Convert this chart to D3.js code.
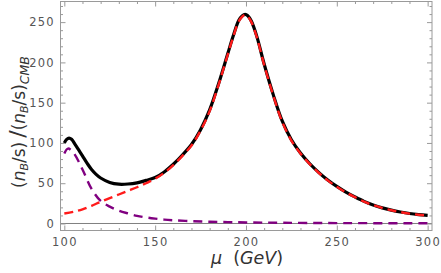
<!DOCTYPE html>
<html><head><meta charset="utf-8">
<script src="https://cdn.jsdelivr.net/npm/d3@7"></script>
<style>body{margin:0;background:#fff}svg{display:block}</style></head>
<body><svg id="c" width="441" height="273"></svg>
<script>
// ---- data ----
const muBlack = [100,101.3,102.6,104,106,108,110,112.5,115,117.5,120,125,130,135,140,145,150,155,160,165,170,175,180,185,190,193,196,198,199.5,201,203,206,210,215,220,225,230,235,240,245,250,255,260,265,270,275,280,285,290,295,300];
const total   = [100,104.5,106,104.5,98,91,84,75,67,61,56.5,51,48.8,49,50.5,53.5,57,64,73.5,85,98,116.5,141,174,211,233,252,258,259.5,258,251,232,198,160,127,104,87.5,74.5,63.5,54,46,39,33,27.5,23,19.4,16.6,14.3,12.4,11,10];
const muRed   = [100,105,110,115,120,125,130,135,140,145,150,155,160,165,170,175,180,185,190,193,196,198,199.5,201,203,206,210,215,220,225,230,235,240,245,250,255,260,265,270,275,280,285,290,295,300];
const redPart = [12.4,14.5,17.5,22,27,31.5,36,40.5,45,50,55.5,63,72.5,84,96.8,115.3,139.5,172.8,210,232,251,257,259,257,250,231,197,159,126,103,87,74,63,53.5,45.6,38.6,32.7,27.2,22.8,19.2,16.4,14.1,12.3,10.9,9.9];
const muPurple = [100,102,105,110,115,120,125,130,135,140,145,150,155,160,170,180,190,200,220,250,300];
const purplePart = [87,93,88,67,43,28,21,16,12.5,9.5,7.5,6,4.8,4,2.9,2.2,1.7,1.3,0.9,0.5,0.3];
const xMajor = [100,150,200,250,300];
const yMajor = [0,50,100,150,200,250];

// ---- layout ----
const svg = d3.select("#c");
const L = 60.5, R = 432, T = 1.5, B = 230.5;
const x = d3.scaleLinear().domain([97.9, 302.4]).range([L, R]);
const y = d3.scaleLinear().domain([-8.7, 275.6]).range([B, T]);
const xMinor = d3.range(100, 301, 10).filter(v => v % 50 !== 0);
const yMinor = d3.range(0, 271, 10).filter(v => v % 50 !== 0);
const frameCol = "#9a9a9a";

// zero line
svg.append("line").attr("x1", L).attr("x2", R).attr("y1", y(0)).attr("y2", y(0))
  .attr("stroke", "#808080").attr("stroke-width", 1);

// curves
const line = (xs, ys) => d3.line().curve(d3.curveCatmullRom.alpha(0.5))
  .x((d, i) => x(xs[i])).y((d, i) => y(ys[i]))(ys);
svg.append("path").attr("d", line(muBlack, total)).attr("fill", "none")
  .attr("stroke", "#000").attr("stroke-width", 3.2);
svg.append("path").attr("d", line(muPurple, purplePart)).attr("fill", "none")
  .attr("stroke", "#800080").attr("stroke-width", 2.4).attr("stroke-dasharray", "9,6");
svg.append("path").attr("d", line(muRed, redPart)).attr("fill", "none")
  .attr("stroke", "#ff1a1a").attr("stroke-width", 2.4).attr("stroke-dasharray", "9,5");

// frame
svg.append("rect").attr("x", L).attr("y", T).attr("width", R - L).attr("height", B - T)
  .attr("fill", "none").attr("stroke", frameCol).attr("stroke-width", 1);

function styleAxis(g) {
  g.select(".domain").remove();
  g.selectAll(".tick line").attr("stroke", frameCol);
  g.selectAll("text").attr("fill", "#555").attr("font-family", "DejaVu Sans, sans-serif")
    .attr("font-size", 11.5).attr("letter-spacing", "1.3px");
}
// major + minor ticks on all sides (inward)
svg.append("g").attr("transform", `translate(0,${B})`)
  .call(d3.axisBottom(x).tickValues(xMajor).tickSize(-5).tickPadding(7.5)).call(styleAxis);
svg.append("g").attr("transform", `translate(0,${B})`)
  .call(d3.axisBottom(x).tickValues(xMinor).tickSize(-2.5).tickFormat("")).call(styleAxis);
svg.append("g").attr("transform", `translate(0,${T})`)
  .call(d3.axisTop(x).tickValues(xMajor).tickSize(-5).tickFormat("")).call(styleAxis);
svg.append("g").attr("transform", `translate(0,${T})`)
  .call(d3.axisTop(x).tickValues(xMinor).tickSize(-2.5).tickFormat("")).call(styleAxis);
svg.append("g").attr("transform", `translate(${L},0)`)
  .call(d3.axisLeft(y).tickValues(yMajor).tickSize(-5).tickPadding(5.5)).call(styleAxis);
svg.append("g").attr("transform", `translate(${L},0)`)
  .call(d3.axisLeft(y).tickValues(yMinor).tickSize(-2.5).tickFormat("")).call(styleAxis);
svg.append("g").attr("transform", `translate(${R},0)`)
  .call(d3.axisRight(y).tickValues(yMajor).tickSize(-5).tickFormat("")).call(styleAxis);
svg.append("g").attr("transform", `translate(${R},0)`)
  .call(d3.axisRight(y).tickValues(yMinor).tickSize(-2.5).tickFormat("")).call(styleAxis);

// x axis title
const xt = svg.append("text").attr("x", 247).attr("y", 264).attr("text-anchor", "middle")
  .attr("font-family", "DejaVu Sans, sans-serif").attr("font-size", 17.5).attr("fill", "#333")
  .attr("xml:space", "preserve");
xt.append("tspan").attr("font-style", "italic").text("μ");
xt.append("tspan").text("  (");
xt.append("tspan").attr("font-style", "italic").text("GeV");
xt.append("tspan").text(")");

// y axis title
const yt = svg.append("text").attr("transform", "translate(25,122) rotate(-90)")
  .attr("text-anchor", "middle").attr("font-family", "DejaVu Sans, sans-serif")
  .attr("font-size", 17).attr("fill", "#333");
yt.append("tspan").text("(");
yt.append("tspan").attr("font-style", "italic").text("n");
yt.append("tspan").attr("font-style", "italic").attr("font-size", 11).attr("dy", 3).text("B");
yt.append("tspan").attr("dy", -3).text("/s)");
yt.append("tspan").attr("font-size", 22).attr("dx", 4).text("/");
yt.append("tspan").text("(");
yt.append("tspan").attr("font-style", "italic").text("n");
yt.append("tspan").attr("font-style", "italic").attr("font-size", 11).attr("dy", 3).text("B");
yt.append("tspan").attr("dy", -3).text("/s)");
yt.append("tspan").attr("font-style", "italic").attr("font-size", 12.5).attr("dy", 4).text("CMB");
</script>
</body></html>
